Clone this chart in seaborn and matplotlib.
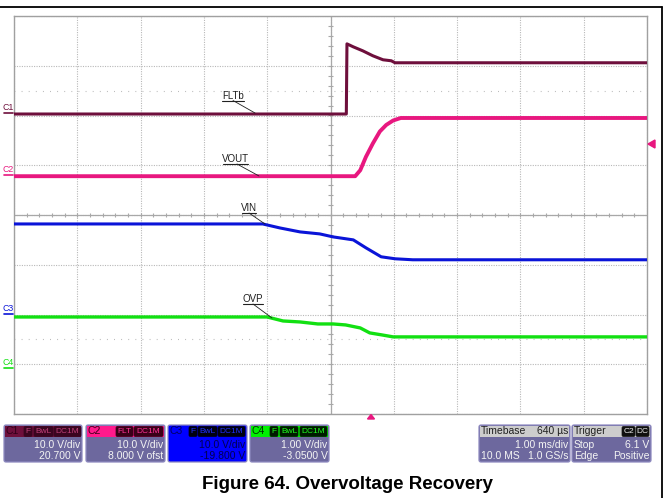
import numpy as np
import pandas as pd
import matplotlib
matplotlib.use("Agg")
import matplotlib.pyplot as plt
from matplotlib.patches import FancyBboxPatch, Polygon
import seaborn as sns

# ---- trace data: time in ms (1 ms/div), amplitude in screen divisions ----
flt_t = [0, 5.25, 5.26, 5.36, 5.51, 5.67, 5.83, 5.96, 6.02, 10]
flt_d = [6.03, 6.03, 7.44, 7.38, 7.30, 7.20, 7.12, 7.10, 7.06, 7.06]

vout_t = [0, 5.39, 5.47, 5.56, 5.67, 5.78, 5.88, 5.99, 6.11, 10]
vout_d = [4.78, 4.78, 4.90, 5.17, 5.44, 5.68, 5.81, 5.90, 5.95, 5.95]

vin_t = [0, 3.93, 4.20, 4.52, 4.83, 5.04, 5.36, 5.56, 5.80, 6.02, 6.30, 10]
vin_d = [3.82, 3.82, 3.74, 3.66, 3.62, 3.56, 3.50, 3.34, 3.16, 3.12, 3.10, 3.10]

ovp_t = [0, 4.00, 4.25, 4.52, 4.80, 5.04, 5.24, 5.47, 5.62, 5.81, 5.99, 10]
ovp_d = [1.95, 1.95, 1.87, 1.85, 1.81, 1.81, 1.79, 1.73, 1.63, 1.59, 1.55, 1.55]

trace_names = ["FLTb", "VOUT", "VIN", "OVP"]
trace_colors = ["#6e0f3c", "#e8177f", "#0a14d8", "#12e012"]
trace_widths = [2.2, 2.8, 2.2, 2.4]

ch_labels = ["C1", "C2", "C3", "C4"]
ch_scale = ["10.0 V/div", "10.0 V/div", "10.0 V/div", "1.00 V/div"]
ch_offset = ["20.700 V", "8.000 V ofst", "-19.800 V", "-3.0500 V"]
ch_badges = [["F", "BwL", "DC1M"], ["FLT", "DC1M"], ["F", "BwL", "DC1M"], ["F", "BwL", "DC1M"]]

timebase = ["Timebase", "640 µs", "1.00 ms/div", "10.0 MS", "1.0 GS/s"]
trigger = ["Trigger", "Stop", "6.1 V", "Edge", "Positive"]
trigger_badges = ["C2", "DC"]
caption = "Figure 64. Overvoltage Recovery"

sns.set_style("white")
plt.rcParams['font.family'] = ['Liberation Sans', 'DejaVu Sans']

W, H = 666, 498
fig = plt.figure(figsize=(6.66, 4.98), dpi=100)
L, R, T, B = 14, 647, 16, 414
ax = fig.add_axes([L / W, 1 - B / H, (R - L) / W, (B - T) / H])

series = [(flt_t, flt_d), (vout_t, vout_d), (vin_t, vin_d), (ovp_t, ovp_d)]
for (t, d), name, col, lw in zip(series, trace_names, trace_colors, trace_widths):
    df = pd.DataFrame({"time": t, "div": d})
    sns.lineplot(data=df, x="time", y="div", color=col, lw=lw, ax=ax,
                 estimator=None, sort=False, zorder=5,
                 drawstyle="default", solid_capstyle="butt")

ax.set_xlim(0, 10)
ax.set_ylim(0, 8)
ax.set_xticks(np.arange(0, 11, 1))
ax.set_yticks(np.arange(0, 9, 1))
ax.grid(True, color="#b8b8b8", linestyle=(0, (1.0, 1.2)), lw=0.8)
ax.tick_params(length=0, labelbottom=False, labelleft=False)
ax.set_xlabel("")
ax.set_ylabel("")
for s in ax.spines.values():
    s.set_color("#a0a0a0")
    s.set_linewidth(1.0)

# centre cross lines with minor ticks
ax.axhline(4, color="#a8a8a8", lw=0.9, zorder=1)
ax.axvline(5, color="#a8a8a8", lw=0.9, zorder=1)
mt = np.arange(0.2, 10, 0.2)
ax.vlines(mt, 4 - 0.05, 4 + 0.05, color="#a8a8a8", lw=0.8, zorder=1)
mty = np.arange(0.2, 8, 0.2)
ax.hlines(mty, 5 - 0.035, 5 + 0.035, color="#a8a8a8", lw=0.8, zorder=1)
# sparse dotted marker rows
for yy in (6.5, 1.5):
    ax.axhline(yy, color="#b4b4b4", lw=0.8, linestyle=(0, (0.8, 5.6)), zorder=1)

# ---- overlay in pixel coordinates ----
ov = fig.add_axes([0, 0, 1, 1])
ov.set_xlim(0, W)
ov.set_ylim(H, 0)
ov.axis("off")
ov.patch.set_alpha(0)

# outer frame lines
ov.plot([0, 662], [7, 7], color="black", lw=1.3)
ov.plot([662, 662], [7, H], color="black", lw=1.3)

# trigger markers
ov.add_patch(Polygon([(648, 144), (655, 140), (655, 148)], closed=True, color="#e8177f"))
ov.add_patch(Polygon([(367.5, 419), (374.5, 419), (371, 414.5)], closed=True, color="#e8177f"))

# channel ground labels
ch_y = [(107, 113), (169, 175), (308, 314), (362, 368)]
for lab, col, (ty, uy) in zip(ch_labels, trace_colors, ch_y):
    ov.text(8, ty, lab, color=col, fontsize=6.3, ha="center", va="center")
    ov.plot([4, 13], [uy, uy], color=col, lw=1.2)

# trace annotations
ann = [("FLTb", 222, 244, 96, 100.5, (233, 255), (100.5, 113)),
       ("VOUT", 223, 248, 159, 164, (237, 259), (164, 176)),
       ("VIN", 242, 256, 208, 213, (249, 265), (213, 224)),
       ("OVP", 243, 263, 299, 304, (253, 272), (304, 318))]
for txt, x0, x1, ty, uy, lx, ly in ann:
    ov.text((x0 + x1) / 2, ty, txt, fontsize=7, ha="center", va="center", color="#202020")
    ov.plot([x0, x1], [uy, uy], color="#202020", lw=0.8)
    ov.plot(lx, ly, color="#202020", lw=0.6)

BODY = "#6d689e"
EDGE = "#8e8ac0"


def rbox(x0, x1, y0, y1, fc, ec=EDGE, lw=0.9, r=2.0, z=2):
    ov.add_patch(FancyBboxPatch((x0, y0), x1 - x0, y1 - y0,
                                boxstyle=f"round,pad=0,rounding_size={r}",
                                fc=fc, ec=ec, lw=lw, zorder=z))


def badges(items, xs, y0, y1, bg, fg):
    for it, (a, b) in zip(items, xs):
        rbox(a, b, y0, y1, bg, ec=bg, lw=0.5, r=1.5, z=4)
        ov.text((a + b) / 2, (y0 + y1) / 2 + 0.3, it, fontsize=6.0, color=fg,
                ha="center", va="center", zorder=5)


hdr_cols = ["#6e0f3c", "#ff1a8c", "#0000ff", "#00f000"]
hdr_txt = ["#30001a", "#3a0018", "#000060", "#003000"]
badge_bg = ["#3a0520", "#3a0018", "#000010", "#001a00"]
badge_fg = ["#c0407a", "#ff3399", "#2030ff", "#20ff20"]
box_x = [(4, 82), (86, 165), (168, 247), (250, 329)]
badge_x = [[(24, 32), (34, 53), (54, 81)],
           [(116, 133), (134, 163)],
           [(189, 197), (198, 217), (218, 245)],
           [(270, 278), (280, 298), (300, 327)]]
y0, yh, y1 = 425, 437, 462
for i in range(4):
    x0, x1 = box_x[i]
    body = "#0000ff" if i == 2 else BODY
    rbox(x0, x1, y0, y1, body)
    ov.add_patch(plt.Rectangle((x0 + 0.8, y0 + 0.8), x1 - x0 - 1.6, yh - y0 - 0.8,
                               fc=hdr_cols[i], ec="none", zorder=3))
    ov.text(x0 + 2, (y0 + yh) / 2 + 0.3, ch_labels[i], fontsize=7.5, color=hdr_txt[i],
            ha="left", va="center", zorder=5)
    badges(ch_badges[i], badge_x[i], y0 + 1.5, yh - 0.5, badge_bg[i], badge_fg[i])
    tc = "#000050" if i == 2 else "#f4f4f4"
    ov.text(x1 - 1.5, 445, ch_scale[i], fontsize=7.5, color=tc, ha="right", va="center", zorder=5)
    ov.text(x1 - 1.5, 455.5, ch_offset[i], fontsize=7.5, color=tc, ha="right", va="center", zorder=5)

# timebase box
tx0, tx1 = 479, 570
rbox(tx0, tx1, y0, y1, BODY)
ov.add_patch(plt.Rectangle((tx0 + 0.8, y0 + 0.8), tx1 - tx0 - 1.6, yh - y0 - 0.8,
                           fc="#cdcdcd", ec="none", zorder=3))
ov.text(tx0 + 2, (y0 + yh) / 2 + 0.3, timebase[0], fontsize=7.5, color="#202020", ha="left", va="center", zorder=5)
ov.text(tx1 - 1.5, (y0 + yh) / 2 + 0.3, timebase[1], fontsize=7.5, color="#202020", ha="right", va="center", zorder=5)
ov.text(tx1 - 1.5, 445, timebase[2], fontsize=7.5, color="#f4f4f4", ha="right", va="center", zorder=5)
ov.text(tx0 + 2, 455.5, timebase[3], fontsize=7.5, color="#f4f4f4", ha="left", va="center", zorder=5)
ov.text(tx1 - 1.5, 455.5, timebase[4], fontsize=7.5, color="#f4f4f4", ha="right", va="center", zorder=5)

# trigger box
gx0, gx1 = 572, 651
rbox(gx0, gx1, y0, y1, BODY)
ov.add_patch(plt.Rectangle((gx0 + 0.8, y0 + 0.8), gx1 - gx0 - 1.6, yh - y0 - 0.8,
                           fc="#cdcdcd", ec="none", zorder=3))
ov.text(gx0 + 2, (y0 + yh) / 2 + 0.3, trigger[0], fontsize=7.5, color="#202020", ha="left", va="center", zorder=5)
badges(trigger_badges, [(622, 635), (636, 649)], y0 + 1.5, yh - 0.5, "#101010", "#f0f0f0")
ov.text(gx0 + 2, 445, trigger[1], fontsize=7.5, color="#f4f4f4", ha="left", va="center", zorder=5)
ov.text(gx1 - 1.5, 445, trigger[2], fontsize=7.5, color="#f4f4f4", ha="right", va="center", zorder=5)
ov.text(gx0 + 2, 455.5, trigger[3], fontsize=7.5, color="#f4f4f4", ha="left", va="center", zorder=5)
ov.text(gx1 - 1.5, 455.5, trigger[4], fontsize=7.5, color="#f4f4f4", ha="right", va="center", zorder=5)

# caption
ov.text(347, 484, caption, fontsize=13.5, fontweight="bold", ha="center", va="center", color="black")

fig.savefig("out.png", dpi=100)
